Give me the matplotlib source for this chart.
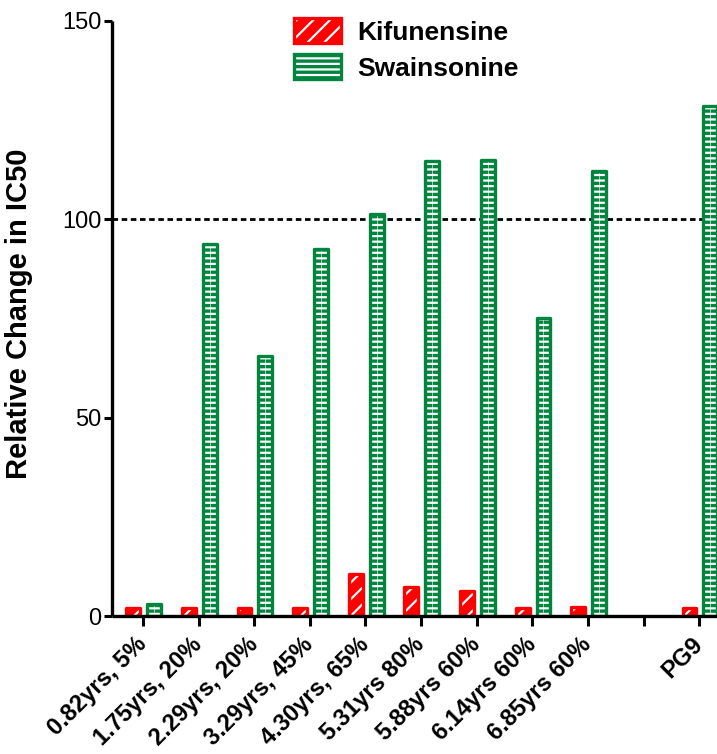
import numpy as np
import matplotlib
matplotlib.use("Agg")
import matplotlib.pyplot as plt
from matplotlib.legend_handler import HandlerTuple

plt.rcParams["font.family"] = ["Liberation Sans", "DejaVu Sans"]

# Samples (age, % breadth) and the PG9 reference antibody
samples = ["0.82yrs, 5%", "1.75yrs, 20%", "2.29yrs, 20%", "3.29yrs, 45%",
           "4.30yrs, 65%", "5.31yrs 80%", "5.88yrs 60%", "6.14yrs 60%",
           "6.85yrs 60%", "PG9"]
kifunensine = [1.9, 1.9, 1.9, 1.9, 10.6, 7.4, 6.3, 1.9, 2.2, 1.9]
swainsonine = [3.0, 93.6, 65.6, 92.4, 101.3, 114.6, 114.8, 75.1, 112.0, 128.5]
reference_level = 100
y_ticks = [0, 50, 100, 150]

RED = "#ff0000"
GREEN = "#00843e"

fig = plt.figure(figsize=(7.17, 7.54), dpi=100)
ax = fig.add_axes([0.1562, 0.1830, 0.8438, 0.7898])

# one empty slot separates the samples from the reference antibody
x = np.arange(len(samples), dtype=float)
x[-1] += 1
tick_pos = np.arange(x.max() + 1)
tick_labels = [""] * len(tick_pos)
for xi, name in zip(x, samples):
    tick_labels[int(xi)] = name

w = 0.25
off_k, off_s = -0.175, 0.20


def hatched(xpos, vals, color, hatch):
    fill = ax.bar(xpos, vals, width=w, color=color, edgecolor="white",
                  hatch=hatch, linewidth=0, zorder=2)
    edge = ax.bar(xpos, vals, width=w, facecolor="none", edgecolor=color,
                  linewidth=2.4, joinstyle="round", zorder=3)
    return fill, edge


plt.rcParams["hatch.linewidth"] = 1.6
k_fill, k_edge = hatched(x + off_k, kifunensine, RED, "//")
s_fill, s_edge = hatched(x + off_s, swainsonine, GREEN, "---")
# faint centre line on the striped bars
ax.vlines(x + off_s, 0, swainsonine, colors="white", linewidth=0.6,
          alpha=0.7, zorder=2.5)

ax.axhline(reference_level, color="black", linestyle=(0, (2.0, 1.3)),
           linewidth=2.0, zorder=1)

ax.set_ylim(0, 150)
ax.set_xlim(-0.557, 10.32)
ax.set_yticks(y_ticks)
ax.set_xticks(tick_pos)
ax.set_xticklabels(tick_labels, rotation=45, ha="right", va="center",
                   rotation_mode="anchor", fontsize=17, fontweight="bold")
ax.tick_params(axis="y", length=5.5, width=2.2, labelsize=17, pad=2)
ax.tick_params(axis="x", length=7, width=2.2, pad=11)

for side in ("top", "right"):
    ax.spines[side].set_visible(False)
for side in ("left", "bottom"):
    ax.spines[side].set_linewidth(2.4)
    ax.spines[side].set_zorder(5)
    ax.spines[side].set_capstyle("butt")

ax.set_ylabel("Relative Change in IC50", fontsize=21, fontweight="bold")
ax.yaxis.set_label_coords(-0.1306, 0.507)

fs_leg = 19
leg = ax.legend([(k_fill[0], k_edge[0]), (s_fill[0], s_edge[0])],
                ["Kifunensine", "Swainsonine"],
                handler_map={tuple: HandlerTuple(ndivide=1)},
                loc="upper left", bbox_to_anchor=(294 / 717, 1 - 18 / 754),
                bbox_transform=fig.transFigure, frameon=False,
                prop={"size": fs_leg, "weight": "bold"},
                handlelength=1.78, handleheight=1.1, handletextpad=0.62,
                labelspacing=0.36, borderpad=0, borderaxespad=0)

fig.savefig("out.png", dpi=100)
